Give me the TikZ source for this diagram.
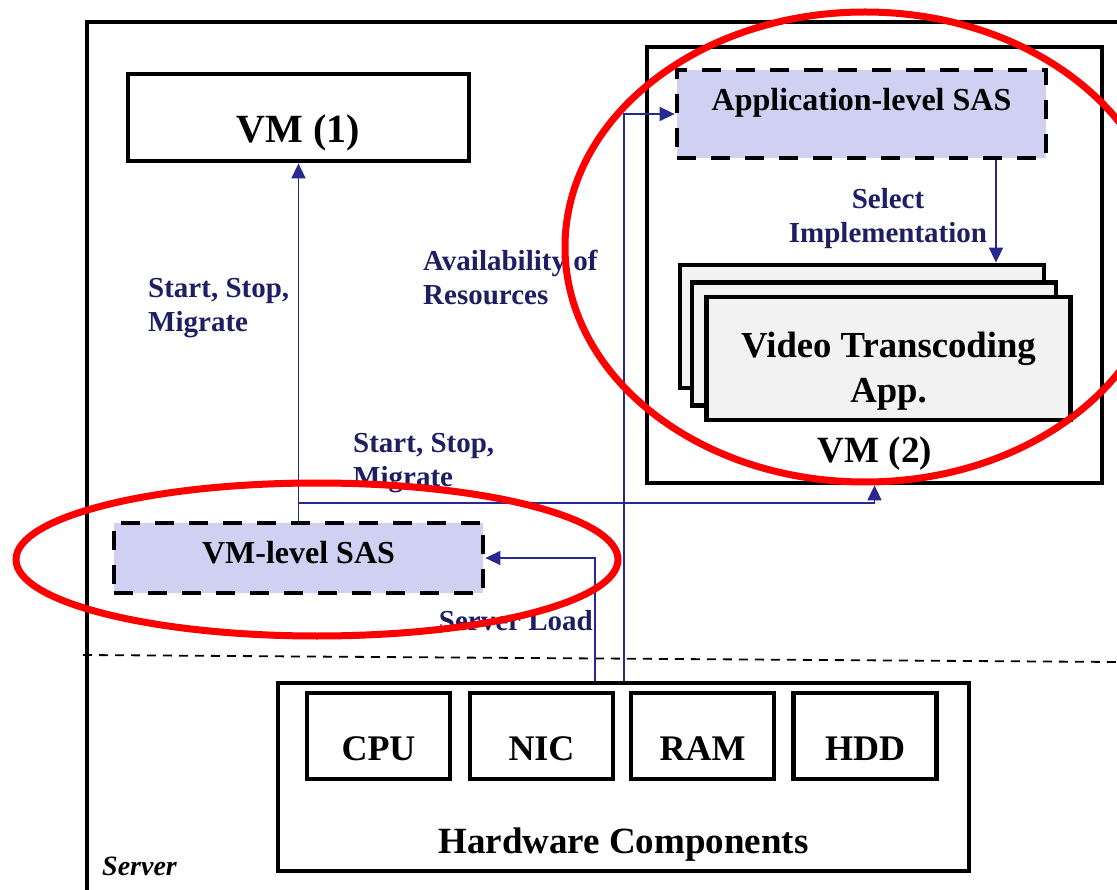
\documentclass[tikz,border=0pt]{standalone}
\usepackage{fontspec}
\setmainfont{Liberation Serif}
\usetikzlibrary{arrows.meta}

\definecolor{sasfill}{RGB}{208,208,242}
\definecolor{appfill}{RGB}{242,242,242}
\definecolor{flowblue}{RGB}{40,40,145}
\definecolor{labelnavy}{RGB}{30,30,100}
\definecolor{ringred}{RGB}{255,0,0}

\begin{document}
\begin{tikzpicture}[x=1pt,y=-1pt,
  box/.style={draw=black, line width=4.8pt, fill=white, inner sep=0pt},
  sasbox/.style={draw=black, line width=4.8pt, dash pattern=on 19pt off 15pt,
                 fill=sasfill, inner sep=0pt},
  appbox/.style={draw=black, line width=4.8pt, fill=appfill, inner sep=0pt,
                 minimum width=364pt, minimum height=123pt},
  hwbox/.style={box, minimum width=143pt, minimum height=86pt},
  title/.style={inner sep=0pt, anchor=base, font=\fontsize{36}{44}\selectfont\bfseries},
  lbl/.style={inner sep=0pt, text=labelnavy, align=left, anchor=north west,
              font=\fontsize{29}{34}\selectfont\bfseries},
  flow/.style={draw=flowblue, line width=1.6pt, -{Triangle[length=15pt,width=14pt]}},
  ring/.style={draw=ringred, line width=7pt},
]
\useasboundingbox (0,0) rectangle (1117,890);

% server frame and the hardware/software separator
\draw[line width=4.5pt] (87,900) -- (87,22) -- (1130,22);
\draw[line width=1.8pt, dash pattern=on 9pt off 7pt] (83,655) -- (1117,662);

% virtual machines
\node[box, minimum width=341pt, minimum height=87pt] (vm1) at (298.5,117.5) {};
\node[box, minimum width=455pt, minimum height=436pt] (vm2) at (874.5,265) {};
\node[sasbox, minimum width=369pt, minimum height=88pt] (appsas) at (861.5,114) {};
\node[appbox] (vtback) at (862,326.5) {};
\node[appbox] (vtmid) at (874,344) {};
\node[appbox] (vtfront) at (888.5,358.5) {};
\node[sasbox, minimum width=369pt, minimum height=70pt] (vmsas) at (298.5,558) {};

% hardware
\node[box, minimum width=691pt, minimum height=188pt] (hw) at (623.5,777) {};
\node[hwbox] (cpu) at (378.5,736) {};
\node[hwbox] (nic) at (541.5,736) {};
\node[hwbox] (ram) at (702.5,736) {};
\node[hwbox] (hdd) at (865,736) {};

% box titles
\node[title, font=\fontsize{40}{48}\selectfont\bfseries] (vm1t) at (298.5,143) {VM (1)};
\node[title, font=\fontsize{37}{44}\selectfont\bfseries] (vm2t) at (875,463) {VM (2)};
\node[title, font=\fontsize{32}{38}\selectfont\bfseries] (appt) at (861.5,111) {Application-level SAS};
\node[title, font=\fontsize{32}{38}\selectfont\bfseries] (vmsast) at (298.5,563) {VM-level SAS};
\node[inner sep=0pt, anchor=north, align=center,
      font=\fontsize{36.7}{45}\selectfont\bfseries] (vtt) at (888.5,332) {Video Transcoding\\App.};
\node[title] (cput) at (cpu |- 0,760) {CPU};
\node[title] (nict) at (nic |- 0,760) {NIC};
\node[title] (ramt) at (ram |- 0,760) {RAM};
\node[title] (hddt) at (hdd |- 0,760) {HDD};
\node[title, font=\fontsize{37}{44}\selectfont\bfseries] (hwt) at (623.5,853) {Hardware Components};
\node[inner sep=0pt, anchor=base west, font=\fontsize{28}{32}\selectfont\bfseries\itshape]
  (servert) at (102,875) {Server};

% control and monitoring flows
\coordinate (fork) at (298.5,503);
\coordinate (loadx) at (595,0);
\coordinate (availx) at (624,0);
\coordinate (selx) at (996,0);
\draw[flow] (vmsas.north) -- (vm1.south);
\draw[flow] (fork) -| (vm2.south);
\draw[flow] (hw.north -| loadx) |- (vmsas.east);
\draw[flow] (hw.north -| availx) |- (appsas.west);
\draw[flow] (appsas.south -| selx) -- (vtback.north -| selx);

% flow labels
\node[lbl] (ssm1) at (148,278) {Start, Stop,\\Migrate};
\node[lbl] (ssm2) at (353,433) {Start, Stop,\\Migrate};
\node[lbl] (avail) at (423,250) {Availability of\\Resources};
\node[lbl, anchor=north, align=center] (sel) at (888,188) {Select\\Implementation};
\node[lbl, anchor=base east] (load) at (593,630) {Server Load};

% highlighted adaptation layers
\draw[ring] (317,559.5) ellipse [x radius=301pt, y radius=76.5pt];
\draw[ring] (865,247) ellipse [x radius=300pt, y radius=235pt];
\end{tikzpicture}
\end{document}
